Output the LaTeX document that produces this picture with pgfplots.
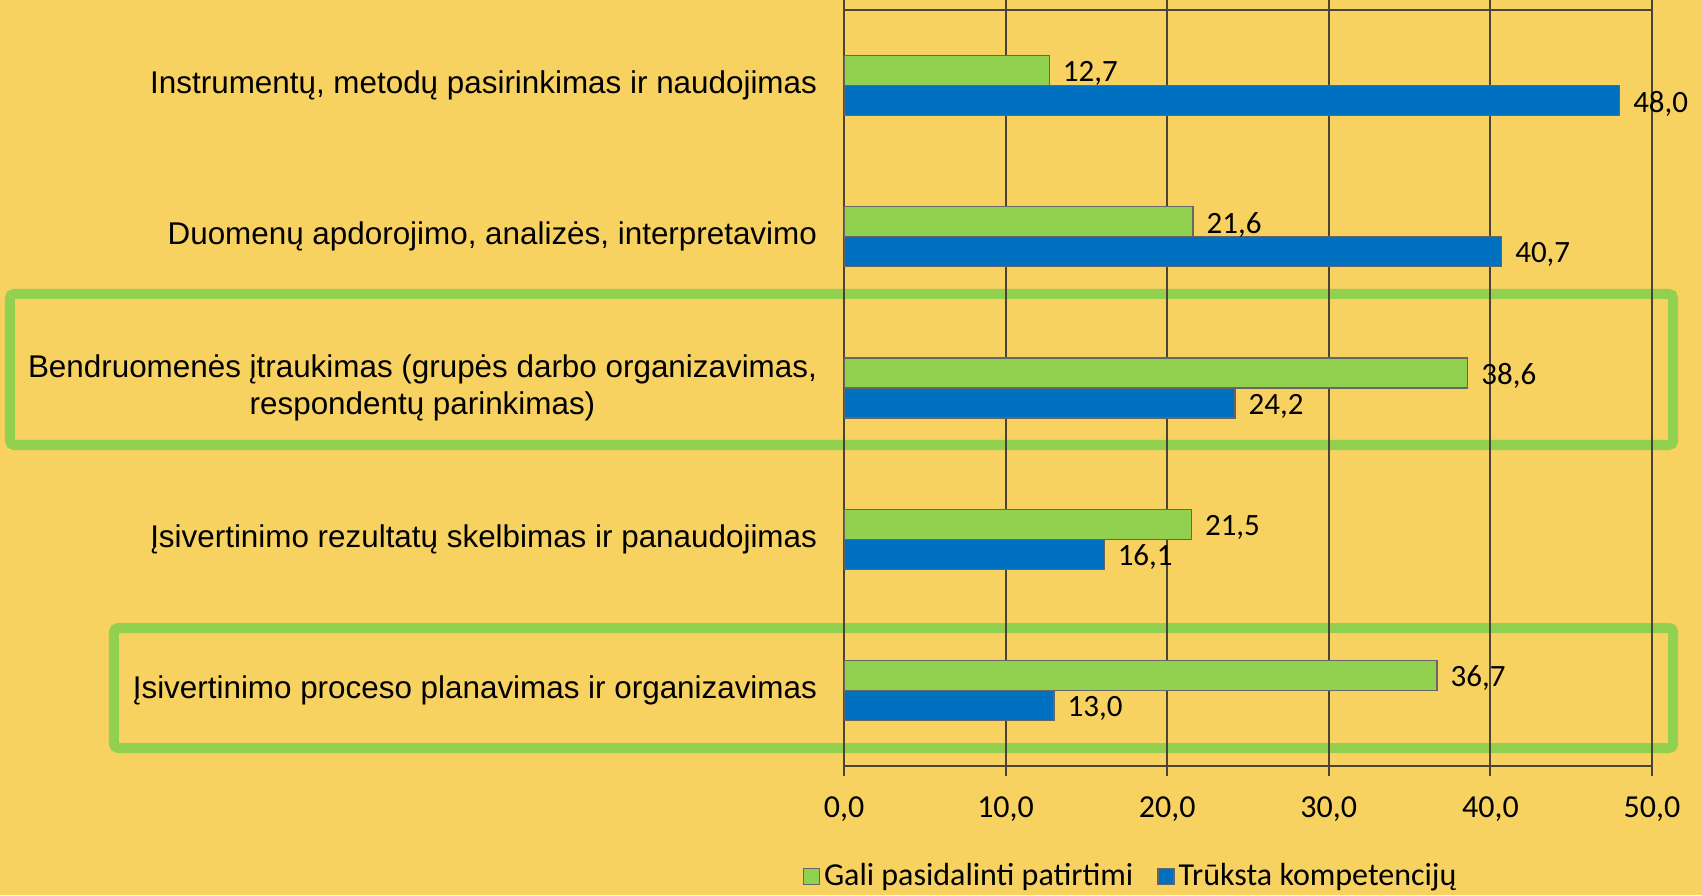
\documentclass[border=0pt]{standalone}
\usepackage{fontspec}
\setmainfont{Liberation Sans}
\newfontfamily\calibri{Carlito}
\usepackage{pgfplots}
\pgfplotsset{compat=1.18}

\definecolor{bgyel}{HTML}{F7D261}
\definecolor{xlgreen}{HTML}{92D050}
\definecolor{xlblue}{HTML}{0070C0}
\definecolor{axgray}{HTML}{4A4436}

\begin{document}
\begin{tikzpicture}
% page background (1 px of the reference = 0.5pt)
\path[use as bounding box, fill=bgyel] (-422pt,-64.5pt) rectangle (429pt,383pt);
% highlight frames
\draw[xlgreen, line width=5pt, rounded corners=2pt] (-417pt,160.5pt) rectangle (414.5pt,236pt);
\draw[xlgreen, line width=5pt, rounded corners=2pt] (-365pt,9pt) rectangle (414.5pt,69pt);

\begin{axis}[
  at={(0,0)}, anchor=south west,
  scale only axis, width=404pt, height=378pt,
  xbar, bar width=15pt,
  xmin=0, xmax=50, ymin=-0.5, ymax=4.5,
  xtick={0,10,...,50},
  ytick={0,1,2,3,4},
  yticklabels={
    {Įsivertinimo proceso planavimas ir organizavimas},
    {Įsivertinimo rezultatų skelbimas ir panaudojimas},
    {Bendruomenės įtraukimas (grupės darbo organizavimas,\\respondentų parinkimas)},
    {Duomenų apdorojimo, analizės, interpretavimo},
    {Instrumentų, metodų pasirinkimas ir naudojimas}},
  yticklabel style={align=center, font=\fontsize{15.7}{18.5}\selectfont, xshift=-5pt},
  ytick style={draw=none},
  xticklabel style={font=\calibri\fontsize{16}{19}\selectfont, yshift=-7pt},
  xtick align=outside, major tick length=5pt,
  /pgf/number format/.cd, fixed, fixed zerofill, precision=1, use comma, assume math mode=true,
  /pgfplots/.cd,
  axis line style={axgray, line width=1pt},
  tick style={axgray, line width=1pt},
  xmajorgrids, grid style={axgray, line width=1pt},
  point meta=x,
  nodes near coords={\pgfmathprintnumber[fixed,fixed zerofill,precision=1,use comma,assume math mode=true]{\pgfplotspointmeta}},
  every node near coord/.append style={font=\calibri\fontsize{15.5}{18}\selectfont, black, inner xsep=6.5pt, yshift=-1.5pt},
  legend style={at={(0.356,-0.146)}, anchor=center, draw=none, fill=none,
    legend columns=2, font=\calibri\fontsize{16}{19}\selectfont,
    /tikz/every even column/.append style={column sep=10pt}},
  legend image code/.code={\draw[#1, draw=black!60] (1pt,-4pt) rectangle (9pt,4pt);},
]
\addplot[fill=xlgreen, draw=black!60, line width=0.6pt, bar shift=7.5pt] coordinates {
  (36.7,0) (21.5,1) (38.6,2) (21.6,3) (12.7,4)
};
\addlegendentry{Gali pasidalinti patirtimi}
\addplot[fill=xlblue, draw=black!60, line width=0.6pt, bar shift=-7.5pt] coordinates {
  (13.0,0) (16.1,1) (24.2,2) (40.7,3) (48.0,4)
};
\addlegendentry{Trūksta kompetencijų}
\end{axis}
\end{tikzpicture}
\end{document}
